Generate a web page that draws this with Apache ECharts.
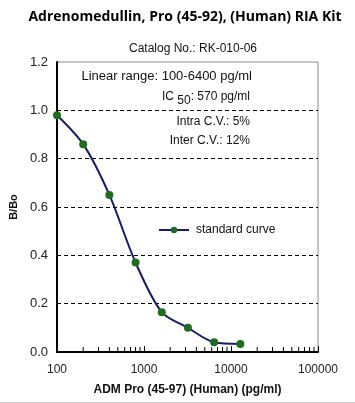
<!DOCTYPE html>
<html><head><meta charset="utf-8">
<script src="https://cdn.jsdelivr.net/npm/echarts@6/dist/echarts.min.js"></script>
<style>html,body{margin:0;padding:0;background:#fff}#c{width:355px;height:403px}</style>
</head><body><div id="c"></div>
<script>
const concentrations = [100, 200, 400, 800, 1600, 3200, 6400, 12800];
const bBo = [0.98, 0.86, 0.65, 0.37, 0.165, 0.10, 0.04, 0.033];
const xTickLabels = ['100', '1000', '10000', '100000'];
const yTickLabels = ['0.0', '0.2', '0.4', '0.6', '0.8', '1.0', '1.2'];
const minorTickValues = [200,300,400,500,600,700,800,900,2000,3000,4000,5000,6000,7000,8000,9000,20000,30000,40000,50000,60000,70000,80000,90000];

const chart = echarts.init(document.getElementById('c'));
const F = '"Liberation Sans", Arial, sans-serif';
chart.setOption({
  animation: false,
  backgroundColor: '#fff',
  title: [
    {text: 'Adrenomedullin, Pro (45-92), (Human) RIA Kit', left: 180, top: 5, textAlign: 'center',
     textStyle: {fontFamily: '"Open Sans", sans-serif', fontWeight: 'bold', fontSize: 14, color: '#000'}},
    {text: 'Catalog No.: RK-010-06', left: 188, top: 38, textAlign: 'center',
     textStyle: {fontFamily: F, fontWeight: 'normal', fontSize: 12, color: '#111'}}
  ],
  graphic: [
    {type: 'text', right: 103, top: 70, style: {text: 'Linear range: 100-6400 pg/ml', font: '13px ' + F, fill: '#111'}},
    {type: 'text', right: 105, top: 88, style: {
      text: '{a|IC }{s|50}{a|: 570 pg/ml}', fill: '#111',
      rich: {a: {fontSize: 12, fontFamily: F, fill: '#111', verticalAlign: 'top', lineHeight: 14},
             s: {fontSize: 12, fontFamily: F, fill: '#111', padding: [7, 0, 0, 0], lineHeight: 14}}}},
    {type: 'text', right: 105, top: 116, style: {text: 'Intra C.V.: 5%', font: '12px ' + F, fill: '#111'}},
    {type: 'text', right: 105, top: 135, style: {text: 'Inter C.V.: 12%', font: '12px ' + F, fill: '#111'}},
    {type: 'rect', left: 0, bottom: 0, shape: {width: 355, height: 1}, style: {fill: '#cfcfcf'}}
  ],
  legend: {
    data: ['standard curve'], left: 153, top: 219, itemWidth: 30, itemHeight: 8, itemGap: 5,
    textStyle: {fontFamily: F, fontSize: 12, color: '#111', padding: [0, 0, 0, 2]}
  },
  grid: {left: 54, right: 37, top: 62, bottom: 51, show: true, borderColor: '#8a8a8a', borderWidth: 1, containLabel: false},
  xAxis: {
    type: 'log', logBase: 10, min: 100, max: 100000,
    name: 'ADM Pro (45-97) (Human) (pg/ml)', nameLocation: 'middle', nameGap: 32,
    nameTextStyle: {fontFamily: F, fontWeight: 'bold', fontSize: 12, color: '#111'},
    axisLine: {lineStyle: {color: '#000', width: 2}},
    axisTick: {inside: true, length: 6, lineStyle: {color: '#000', width: 1}},
    axisLabel: {fontFamily: F, fontSize: 12, color: '#222', margin: 12,
      formatter: v => { const i = Math.round(Math.log10(v)) - 2; return xTickLabels[i] || ''; }},
    splitLine: {show: false}
  },
  yAxis: {
    type: 'value', min: 0, max: 1.2, interval: 0.2,
    name: 'B/Bo', nameLocation: 'middle', nameGap: 38, nameRotate: 90,
    nameTextStyle: {fontFamily: F, fontWeight: 'bold', fontSize: 11, color: '#111'},
    axisLine: {show: true, lineStyle: {color: '#000', width: 2}},
    axisTick: {show: false},
    axisLabel: {fontFamily: F, fontSize: 13, color: '#222', margin: 9,
      formatter: v => yTickLabels[Math.round(v / 0.2)]},
    splitLine: {show: true, showMinLine: false, showMaxLine: false, lineStyle: {color: '#000', type: [4, 3], width: 1}}
  },
  series: [
    {
      name: 'standard curve', type: 'line', smooth: 0.3,
      data: concentrations.map((c, i) => [c, bBo[i]]),
      symbol: 'circle', symbolSize: 8,
      lineStyle: {color: '#1a1a6b', width: 2},
      itemStyle: {color: '#1f6b1f'},
      z: 3
    },
    {
      type: 'custom', name: 'minor', silent: true,
      data: minorTickValues.map(v => [v, 0]),
      renderItem: (params, api) => {
        const p = api.coord([api.value(0), 0]);
        return {type: 'line', shape: {x1: p[0], y1: p[1], x2: p[0], y2: p[1] - 5}, style: {stroke: '#000', lineWidth: 1}};
      },
      z: 4
    }
  ]
});
</script></body></html>
